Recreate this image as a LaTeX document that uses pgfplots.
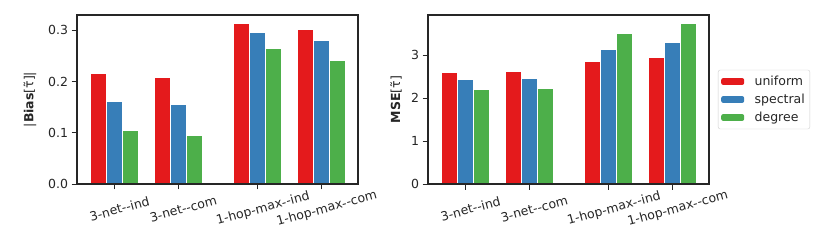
\documentclass[border=0pt]{standalone}
\usepackage{fontspec}
\setmainfont{DejaVu Sans}
\usepackage{pgfplots}
\pgfplotsset{compat=1.18}
\definecolor{cred}{HTML}{E41A1C}
\definecolor{cblue}{HTML}{377EB8}
\definecolor{cgreen}{HTML}{4DAF4A}
\definecolor{axgray}{HTML}{262626}
\newcommand{\fs}{\fontsize{12.5}{15}\selectfont}
\pgfplotsset{
  mybase/.style={
    scale only axis, width=281pt, height=169pt, anchor=south west,
    axis on top,
    ybar, bar width=0.25,
    xmin=-0.585, xmax=3.82, ymin=0,
    xtick={0,1,2.25,3.25},
    xticklabels={3-net-{}-ind,3-net-{}-com,1-hop-max-{}-ind,1-hop-max-{}-com},
    xticklabel style={font=\fs, text=axgray, rotate=15, anchor=center, yshift=-20pt},
    yticklabel style={font=\fs, text=axgray},
    tick align=outside, xtick pos=bottom, ytick pos=left,
    major tick length=5.5pt,
    every tick/.style={axgray, line width=0.9pt},
    axis line style={axgray, line width=1.1pt},
    /pgf/number format/assume math mode=true,
    every axis plot/.append style={draw=white, line width=0.9pt},
  },
  myleg/.style={legend image code/.code={\fill[##1, draw=none] (0pt,-3.4pt) rectangle (23pt,3.4pt); \path (31pt,0pt);}},
}
\begin{document}
\begin{tikzpicture}
\useasboundingbox (0,0) rectangle (830pt,249pt);
\begin{axis}[mybase, at={(77pt,65pt)}, ymax=0.33,
  ytick={0,0.1,0.2,0.3},
  yticklabel style={/pgf/number format/.cd, fixed, fixed zerofill, precision=1},
  ylabel={|\textbf{Bias}[τ̃]|},
  every axis y label/.style={at={(axis description cs:-0.167,0.5)}, rotate=90, anchor=center, font=\fs, text=axgray},
]
\addplot[fill=cred, bar shift=-0.25] coordinates {(0,0.215) (1,0.208) (2.25,0.313) (3.25,0.301)};
\addplot[fill=cblue, bar shift=0] coordinates {(0,0.162) (1,0.155) (2.25,0.296) (3.25,0.280)};
\addplot[fill=cgreen, bar shift=0.25] coordinates {(0,0.105) (1,0.094) (2.25,0.2655) (3.25,0.242)};
\end{axis}
\begin{axis}[mybase, at={(428pt,65pt)}, ymax=3.93,
  ytick={0,1,2,3},
  ylabel={\textbf{MSE}[τ̃]},
  every axis y label/.style={at={(axis description cs:-0.114,0.5)}, rotate=90, anchor=center, font=\fs, text=axgray},
  legend style={at={(1.032,0.5)}, anchor=west, draw=black!20, rounded corners=2pt,
    font=\fs, text=axgray, inner xsep=3pt, inner ysep=4pt,
    row sep=3pt},
  legend cell align=left,
]
\addplot[fill=cred, bar shift=-0.25, myleg] coordinates {(0,2.597) (1,2.62) (2.25,2.845) (3.25,2.953)};
\addplot[fill=cblue, bar shift=0, myleg] coordinates {(0,2.44) (1,2.457) (2.25,3.124) (3.25,3.287)};
\addplot[fill=cgreen, bar shift=0.25, myleg] coordinates {(0,2.19) (1,2.225) (2.25,3.504) (3.25,3.729)};
\legend{uniform,spectral,degree}
\end{axis}
\end{tikzpicture}
\end{document}
